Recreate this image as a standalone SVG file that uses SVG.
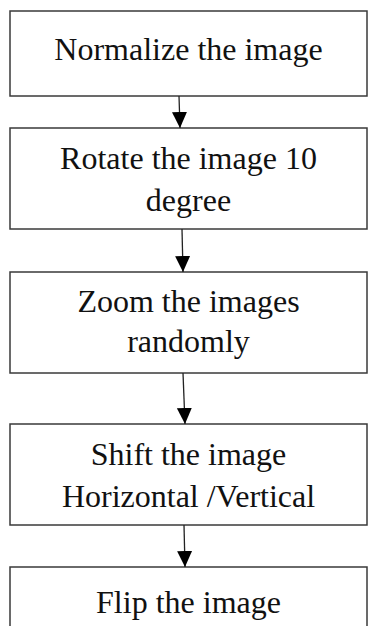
<svg xmlns="http://www.w3.org/2000/svg" width="368" height="626" viewBox="0 0 368 626">
  <style>
    .box { fill: #ffffff; stroke: #3a3a3a; stroke-width: 1.5; }
    .lbl { font-family: "Liberation Serif", "Times New Roman", serif; font-size: 32px; fill: #111111; text-anchor: middle; }
    .conn { stroke: #222222; stroke-width: 1.3; fill: none; marker-end: url(#arrow); }
  </style>
  <defs>
    <marker id="arrow" markerUnits="userSpaceOnUse" markerWidth="16" markerHeight="16" viewBox="0 0 16 16" refX="16" refY="8" orient="auto">
      <path d="M0,0.5 L16,8 L0,15.5 Z" fill="#000000"/>
    </marker>
  </defs>
  <rect width="368" height="626" fill="#ffffff"/>
  <g id="node-normalize">
    <rect class="box" x="10" y="11" width="357" height="85"/>
    <text class="lbl" x="188.5" y="60">Normalize the image</text>
  </g>
  <g id="node-rotate">
    <rect class="box" x="10" y="128" width="357" height="101"/>
    <text class="lbl" x="188.5" y="169">Rotate the image 10</text>
    <text class="lbl" x="188.5" y="211">degree</text>
  </g>
  <g id="node-zoom">
    <rect class="box" x="10" y="272" width="357" height="101"/>
    <text class="lbl" x="188.5" y="312">Zoom the images</text>
    <text class="lbl" x="188.5" y="352">randomly</text>
  </g>
  <g id="node-shift">
    <rect class="box" x="10" y="424" width="357" height="101"/>
    <text class="lbl" x="188.5" y="465">Shift the image</text>
    <text class="lbl" x="188.5" y="507">Horizontal /Vertical</text>
  </g>
  <g id="node-flip">
    <rect class="box" x="10" y="567" width="357" height="80"/>
    <text class="lbl" x="188.5" y="613">Flip the image</text>
  </g>
  <g id="connectors">
    <line class="conn" x1="179" y1="96" x2="180" y2="128"/>
    <line class="conn" x1="182" y1="229" x2="183" y2="272"/>
    <line class="conn" x1="183" y1="373" x2="185" y2="424"/>
    <line class="conn" x1="184" y1="525" x2="185" y2="567"/>
  </g>
</svg>
